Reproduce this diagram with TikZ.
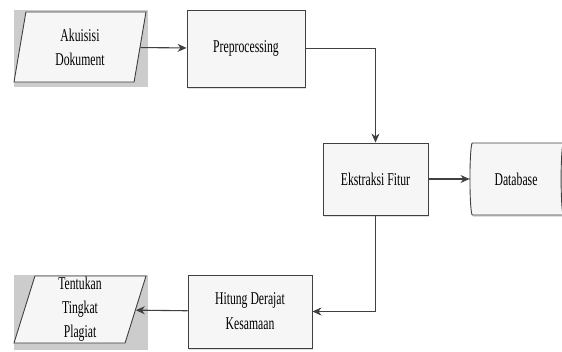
\documentclass[tikz,border=0pt]{standalone}
\usepackage{fontspec}
\setmainfont{Liberation Serif}[FakeStretch=0.65]
\definecolor{boxline}{RGB}{64,64,64}
\definecolor{boxfill}{RGB}{246,246,246}
\definecolor{backgray}{RGB}{204,204,204}
\usetikzlibrary{arrows,arrows.meta,shapes,shadows}
\tikzstyle{process}=[rectangle,draw=boxline,fill=boxfill,line width=0.9pt,align=center,font=\fontsize{18}{25}\selectfont,drop shadow={shadow xshift=1pt,shadow yshift=-2pt,opacity=0.25}]
\tikzstyle{backrect}=[rectangle,fill=backgray,inner sep=0pt]
\tikzstyle{inout}=[trapezium,trapezium left angle=72,trapezium right angle=108,trapezium stretches body,draw=boxline,fill=boxfill,line width=0.9pt,inner sep=0pt,align=center,font=\fontsize{18}{24}\selectfont]
\tikzstyle{storage}=[cylinder,aspect=0.25,draw=boxline,fill=boxfill,line width=0.9pt,align=center,font=\fontsize{18}{25}\selectfont,drop shadow={shadow xshift=1pt,shadow yshift=-2pt,opacity=0.25}]
\tikzstyle{edge} = [draw=boxline,line width=1.1pt,-{Stealth[length=9pt,width=8pt]}]

\begin{document}
\begin{tikzpicture}[x=1pt,y=1pt]

            \useasboundingbox (0,0) rectangle (562,-352);
            \clip (0,0) rectangle (562,-352);

            \node[backrect,minimum width=134pt,minimum height=77pt] (akuisisibg) at (81,-48.5) {};
            \node[inout,minimum width=132pt,minimum height=70pt] (akuisisi) at (80,-47) {Akuisisi\\Dokument};
            \node[process,minimum width=118pt,minimum height=77pt] (prepro) at (246,-48.5) {Preprocessing};
            \node[process,minimum width=105pt,minimum height=72pt] (ekstraksi) at (375.5,-179) {Ekstraksi Fitur};
            \node[storage,minimum width=72pt,minimum height=96pt] (database) at (516,-179) {Database};
            \node[process,minimum width=124pt,minimum height=73pt] (hitung) at (250,-311.5) {Hitung Derajat\\Kesamaan};
            \node[backrect,minimum width=134pt,minimum height=75pt] (tentukanbg) at (81,-312.5) {};
            \node[inout,minimum width=132pt,minimum height=67pt] (tentukan) at (80,-309.5) {Tentukan\\Tingkat\\Plagiat};

            \path[edge] (akuisisi) -- (prepro);
            \path[edge] (prepro.east) -| (ekstraksi.north);
            \path[edge] (ekstraksi) -- (database);
            \path[edge] (ekstraksi.south) |- (hitung.east);
            \path[edge] (hitung) -- (tentukan);

        \end{tikzpicture}
\end{document}
